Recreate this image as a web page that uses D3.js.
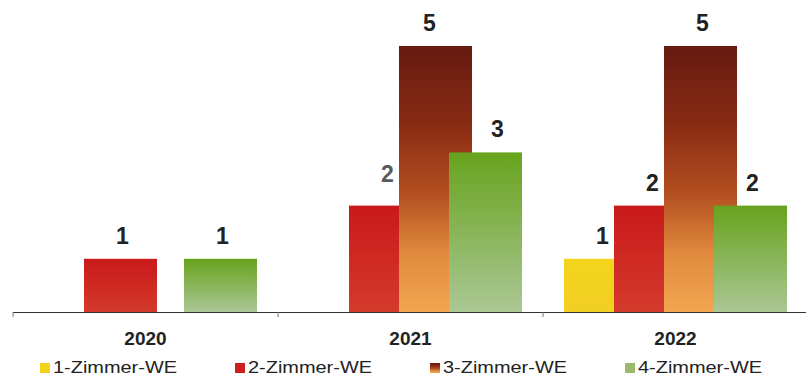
<!DOCTYPE html>
<html>
<head>
<meta charset="utf-8">
<script src="https://cdn.jsdelivr.net/npm/d3@7/dist/d3.min.js"></script>
<style>
  html, body { margin: 0; padding: 0; background: #fff; }
  svg { display: block; font-family: "Liberation Sans", Arial, sans-serif; }
</style>
</head>
<body>
<svg id="chart" width="806" height="380"></svg>
<script>
// Wohnungen nach Zimmerzahl, je Jahr
const years = ["2020", "2021", "2022"];
const seriesNames = ["1-Zimmer-WE", "2-Zimmer-WE", "3-Zimmer-WE", "4-Zimmer-WE"];
const zimmer1 = [0, 0, 1];
const zimmer2 = [1, 2, 2];
const zimmer3 = [0, 5, 5];
const zimmer4 = [1, 3, 2];
const valueTicks = [0, 1, 2, 3, 4, 5];

const seriesValues = [zimmer1, zimmer2, zimmer3, zimmer4];

const svg = d3.select("#chart");
const defs = svg.append("defs");

// vertical fills, top colour -> bottom colour
const fills = [
  ["#f4d51c", "#f1cf24"],
  ["#c9191a", "#d43a2c"],
  null,
  ["#67a31d", "#abc795"]
];
fills.forEach((f, i) => {
  if (!f) return;
  const g = defs.append("linearGradient").attr("id", "g" + i)
    .attr("x1", 0).attr("y1", 0).attr("x2", 0).attr("y2", 1);
  g.append("stop").attr("offset", "0%").attr("stop-color", f[0]);
  g.append("stop").attr("offset", "100%").attr("stop-color", f[1]);
});
const brown = defs.append("linearGradient").attr("id", "g2")
  .attr("x1", 0).attr("y1", 0).attr("x2", 0).attr("y2", 1);
[["0%", "#661a10"], ["30%", "#8a2c14"], ["55%", "#b24e20"], ["78%", "#e08a3e"], ["100%", "#f2a650"]]
  .forEach(s => brown.append("stop").attr("offset", s[0]).attr("stop-color", s[1]));

const x0 = d3.scaleBand().domain(years).range([13, 808]).paddingInner(0);
const x1 = d3.scaleBand().domain(seriesNames).range([0, 200]).padding(0);
const barW = x1.step() * 1.46;
const groupOffset = (x0.bandwidth() - (x1.step() * 3 + barW)) / 2;
const y = d3.scaleLinear().domain([0, d3.max(valueTicks)]).range([312, 46]);

const rows = [];
seriesNames.forEach((s, si) => {
  years.forEach((yr, yi) => {
    rows.push({ series: s, si, year: yr, yi, value: seriesValues[si][yi] });
  });
});

const barX = d => x0(d.year) + groupOffset + x1(d.series);
const isMuted = d => d.year === "2021" && d.si === 1;

// bars: later series are drawn on top of earlier ones
svg.append("g").selectAll("rect")
  .data(rows.filter(d => d.value > 0))
  .join("rect")
  .attr("x", barX)
  .attr("y", d => y(d.value))
  .attr("width", barW)
  .attr("height", d => y(0) - y(d.value))
  .attr("fill", d => `url(#g${d.si})`);

// value labels
svg.append("g").selectAll("text")
  .data(rows.filter(d => d.value > 0))
  .join("text")
  .attr("x", d => barX(d) + barW / 2 + (d.year === "2021" && d.si === 2 ? -6 : d.year === "2021" && d.si === 3 ? 12 : 2))
  .attr("y", d => y(d.value) - (isMuted(d) ? 24 : 15))
  .attr("text-anchor", "middle")
  .attr("font-size", 23)
  .attr("font-weight", "bold")
  .attr("fill", d => isMuted(d) ? "#5a5a5a" : "#222")
  .text(d => d.value);

// category axis
const axis = d3.axisBottom(x0).tickSize(0).tickPadding(20);
const ax = svg.append("g").attr("transform", `translate(0,${y(0)})`).call(axis);
ax.select(".domain").attr("stroke", "#333").attr("d", "M13,0.5H806");
ax.selectAll(".tick text")
  .attr("font-family", "'Liberation Sans', Arial, sans-serif")
  .attr("font-size", 19).attr("font-weight", "bold").attr("fill", "#222");
// separators between categories
ax.append("g").selectAll("line")
  .data([13, ...years.slice(1).map(yr => x0(yr))])
  .join("line")
  .attr("x1", d => d).attr("x2", d => d)
  .attr("y1", 0).attr("y2", 5)
  .attr("stroke", "#777");

// legend
const swatch = ["#f2d21a", "#cc2020", "#9a3816", "#9cba6c"];
const legend = svg.append("g").attr("transform", "translate(40,363)");
const item = legend.selectAll("g").data(seriesNames).join("g")
  .attr("transform", (d, i) => `translate(${i * 195},0)`);
item.append("rect").attr("width", 10).attr("height", 10)
  .attr("fill", (d, i) => i === 2 ? "url(#g2)" : swatch[i]);
item.append("text")
  .attr("x", 13).attr("y", 10)
  .attr("font-size", 17).attr("fill", "#222")
  .attr("textLength", 124).attr("lengthAdjust", "spacingAndGlyphs")
  .text(d => d);
</script>
</body>
</html>
